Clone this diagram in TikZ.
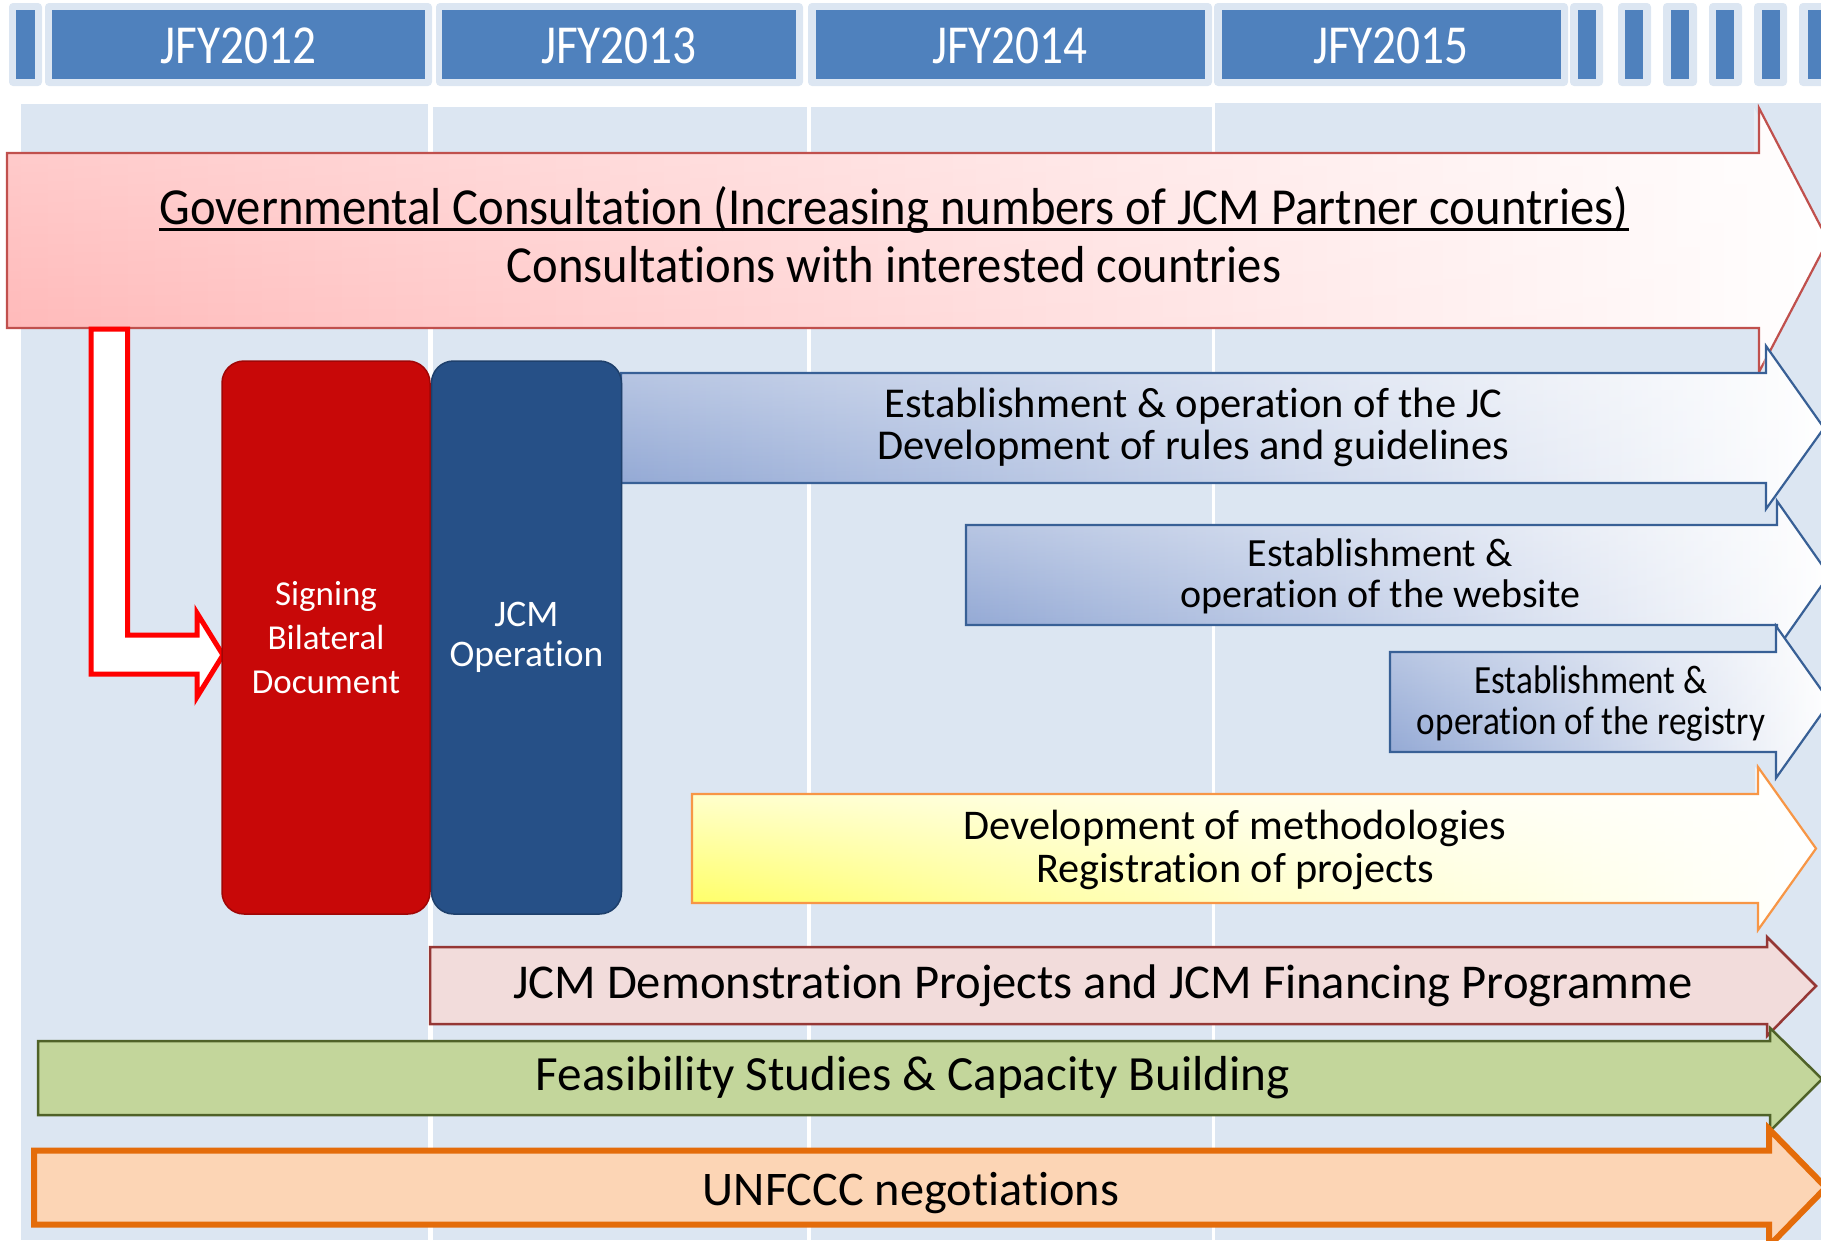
\documentclass[tikz,border=0pt]{standalone}
\usepackage{fontspec}
\setmainfont{Carlito}[Ligatures=NoCommon]
\newfontfamily\hdrfont[FakeStretch=0.86,Ligatures=NoCommon]{Carlito}
\newfontfamily\govfont[FakeStretch=0.935,Ligatures=NoCommon]{Carlito}
\newfontfamily\regfont[FakeStretch=0.88,Ligatures=NoCommon]{Carlito}
\usetikzlibrary{fadings}
\definecolor{bgcol}{RGB}{220,230,242}
\definecolor{hdrblue}{RGB}{79,129,189}
\definecolor{govline}{RGB}{192,80,77}
\definecolor{govpink}{RGB}{255,182,182}
\definecolor{govmid}{RGB}{255,216,216}
\definecolor{blueline}{RGB}{56,96,150}
\definecolor{bluefill}{RGB}{140,163,210}
\definecolor{orline}{RGB}{247,150,70}
\definecolor{yel}{RGB}{255,255,80}
\definecolor{demofill}{RGB}{242,220,219}
\definecolor{demoline}{RGB}{149,55,53}
\definecolor{feafill}{RGB}{195,214,155}
\definecolor{fealine}{RGB}{79,98,40}
\definecolor{unfill}{RGB}{252,213,181}
\definecolor{unline}{RGB}{228,108,10}
\definecolor{signred}{RGB}{200,8,8}
\definecolor{jcmblue}{RGB}{38,80,135}
\tikzfading[name=topwhite, top color=transparent!0, bottom color=transparent!100]

\def\PathGov{(7,153) -- (1759,153) -- (1759,108) -- (1828,240.5) -- (1759,372) -- (1759,328) -- (7,328) -- cycle}
\def\PathJC{(621,373) -- (1766,373) -- (1766,346) -- (1824,428) -- (1766,509) -- (1766,483) -- (621,483) -- cycle}
\def\PathWeb{(966,525) -- (1777,525) -- (1777,501) -- (1829,575) -- (1777,649) -- (1777,625) -- (966,625) -- cycle}
\def\PathReg{(1390,652) -- (1776,652) -- (1776,626) -- (1830,702) -- (1776,778) -- (1776,752) -- (1390,752) -- cycle}
\def\PathMeth{(692,794) -- (1758,794) -- (1758,767) -- (1816,848.5) -- (1758,930) -- (1758,903) -- (692,903) -- cycle}

\begin{document}
\begin{tikzpicture}[x=1pt,y=-1pt,
  col/.style={fill=bgcol},
  hdrout/.style={fill=bgcol, rounded corners=4pt},
  hdrin/.style={fill=hdrblue},
  txt/.style={inner sep=0pt, anchor=base},
  hdrtxt/.style={txt, text=white, font=\hdrfont\fontsize{55}{60}\selectfont},
  bluearrow/.style={draw=blueline, line width=2.2pt, line join=miter},
  overlay/.style={fill=white, path fading=topwhite},
  sbox/.style={rounded corners=22pt, minimum height=553pt, inner sep=0pt, text=white, align=center}
]
\useasboundingbox (0,0) rectangle (1821,1240);
\clip (0,0) rectangle (1821,1240);

% background columns
\path[col] (21,104) rectangle (428,1240);
\path[col] (433,107) rectangle (807,1240);
\path[col] (811,107) rectangle (1212,1240);
\path[col] (1215,103) rectangle (1821,1240);

% header
\path[hdrout] (9,3) rectangle (42,86);      \path[hdrin] (16,10) rectangle (35,79);
\path[hdrout] (45,3) rectangle (432,86);    \path[hdrin] (52,10) rectangle (425,79);
\path[hdrout] (436,3) rectangle (803,86);   \path[hdrin] (442,10) rectangle (796,79);
\path[hdrout] (808,3) rectangle (1212,86);  \path[hdrin] (816,10) rectangle (1205,79);
\path[hdrout] (1214,3) rectangle (1568,86); \path[hdrin] (1222,10) rectangle (1561,79);
\path[hdrout] (1570,3) rectangle (1603,86); \path[hdrin] (1578,10) rectangle (1596,79);
\path[hdrout] (1618,3) rectangle (1651,86); \path[hdrin] (1625,10) rectangle (1643,79);
\path[hdrout] (1663,3) rectangle (1697,86); \path[hdrin] (1671,10) rectangle (1689,79);
\path[hdrout] (1709,3) rectangle (1742,86); \path[hdrin] (1716,10) rectangle (1734,79);
\path[hdrout] (1754,3) rectangle (1787,86); \path[hdrin] (1762,10) rectangle (1780,79);
\path[hdrout] (1799,3) rectangle (1832,86); \path[hdrin] (1808,10) rectangle (1826,79);
\node[hdrtxt] (h12) at (238.5,63) {JFY2012};
\node[hdrtxt] (h13) at (619,63) {JFY2013};
\node[hdrtxt] (h14) at (1010,63) {JFY2014};
\node[hdrtxt] (h15) at (1391,63) {JFY2015};

% governmental consultation arrow
\path[left color=govpink, right color=white, middle color=govmid] \PathGov;
\path[overlay, fill opacity=0.35] \PathGov;
\path[draw=govline, line width=2.2pt, line join=miter] \PathGov;
\node[txt, font=\govfont\fontsize{52}{60}\selectfont] (gov1) at (894,224)
  {Governmental Consultation (Increasing numbers of JCM Partner countries)};
\draw[line width=2.6pt] ([yshift=-5.5pt]gov1.base west) -- ([yshift=-5.5pt]gov1.base east);
\node[txt, font=\govfont\fontsize{52}{60}\selectfont] (gov2) at (894,282)
  {Consultations with interested countries};

% elbow arrow from consultation to signing
\path[draw=red, line width=5pt, fill=white, line join=miter]
  (91,329) -- (91,674) -- (197,674) -- (197,697) -- (223,655) -- (197,613)
  -- (197,635) -- (127.5,635) -- (127.5,329) -- cycle;

% JC arrow
\path[left color=bluefill, right color=white] \PathJC;
\path[overlay, fill opacity=0.45] \PathJC;
\path[bluearrow] \PathJC;
\node[txt, font=\fontsize{42.5}{44}\selectfont] (jc1) at (1193.5,417) {Establishment \& operation of the JC};
\node[txt, font=\fontsize{42.5}{44}\selectfont] (jc2) at (1193.5,459) {Development of rules and guidelines};

% website arrow
\path[left color=bluefill, right color=white] \PathWeb;
\path[overlay, fill opacity=0.45] \PathWeb;
\path[bluearrow] \PathWeb;
\node[txt, font=\fontsize{40}{42}\selectfont] (web1) at (1380,566) {Establishment \&};
\node[txt, font=\fontsize{40}{42}\selectfont] (web2) at (1380,607) {operation of the website};

% registry arrow
\path[left color=bluefill, right color=white] \PathReg;
\path[overlay, fill opacity=0.45] \PathReg;
\path[bluearrow] \PathReg;
\node[txt, font=\regfont\fontsize{40}{42}\selectfont] (reg1) at (1591,693) {Establishment \&};
\node[txt, font=\regfont\fontsize{40}{42}\selectfont] (reg2) at (1591,734) {operation of the registry};

% methodologies arrow
\path[left color=yel, right color=white, middle color=yel!35!white] \PathMeth;
\path[overlay, fill opacity=0.85] \PathMeth;
\path[draw=orline, line width=2.2pt, line join=miter] \PathMeth;
\node[txt, font=\fontsize{42.3}{44}\selectfont] (meth1) at (1235,839) {Development of methodologies};
\node[txt, font=\fontsize{42.3}{44}\selectfont] (meth2) at (1235,882) {Registration of projects};

% demonstration arrow
\path[fill=demofill, draw=demoline, line width=2.5pt, line join=miter]
  (430,947) -- (1767,947) -- (1767,937) -- (1816,986) -- (1767,1036) -- (1767,1024) -- (430,1024) -- cycle;
\node[txt, font=\fontsize{48.6}{50}\selectfont] (demo) at (1103,998)
  {JCM Demonstration Projects and JCM Financing Programme};

% feasibility arrow
\path[fill=feafill, draw=fealine, line width=2.5pt, line join=miter]
  (38,1041) -- (1770,1041) -- (1770,1028) -- (1822,1079) -- (1770,1131) -- (1770,1115) -- (38,1115) -- cycle;
\node[txt, font=\fontsize{49.2}{50}\selectfont] (fea) at (913,1090) {Feasibility Studies \& Capacity Building};

% UNFCCC arrow
\path[fill=unfill, draw=unline, line width=6pt, line join=miter]
  (34,1150.5) -- (1769,1150.5) -- (1769,1129) -- (1826,1187.5) -- (1769,1246) -- (1769,1224.5) -- (34,1224.5) -- cycle;
\node[txt, font=\fontsize{48.3}{50}\selectfont] (unf) at (911,1205) {UNFCCC negotiations};

% signing and JCM operation boxes
\node[sbox, fill=signred, draw=signred!80!black, line width=1.5pt, minimum width=208pt,
  font=\fontsize{35}{44}\selectfont] (sign) at (326,637.5) {Signing\\Bilateral\\Document};
\node[sbox, fill=jcmblue, draw=jcmblue!80!black, line width=1.5pt, minimum width=190pt,
  font=\fontsize{37.5}{40}\selectfont] (jcm) at (526.5,637.5) {JCM\\Operation};
\end{tikzpicture}
\end{document}
